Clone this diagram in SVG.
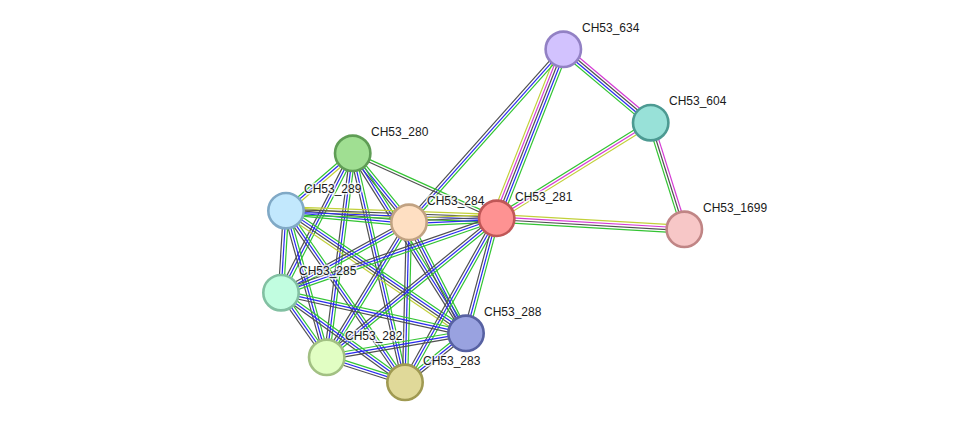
<svg xmlns="http://www.w3.org/2000/svg" width="975" height="428" viewBox="0 0 975 428">
<style>
.g{stroke:#33c433}.b{stroke:#2a2af0}.k{stroke:#505050}.m{stroke:#d43ad4}.y{stroke:#c2d03a}
line{stroke-width:1.2;fill:none}
.n circle{stroke-width:2.6}
text{font-family:"Liberation Sans",Arial,sans-serif;font-size:12px;fill:#1a1a1a;stroke:#fff;stroke-width:3;stroke-opacity:0.75;paint-order:stroke;stroke-linejoin:round}
</style>
<defs>
<g id="e3"><line class="g" x1="0" y1="-2.6" x2="1" y2="-2.6"/><line class="b" x1="0" y1="0" x2="1" y2="0"/><line class="k" x1="0" y1="2.6" x2="1" y2="2.6"/></g>
<g id="ykbg"><line class="y" x1="0" y1="-3.9" x2="1" y2="-3.9"/><line class="k" x1="0" y1="-1.3" x2="1" y2="-1.3"/><line class="b" x1="0" y1="1.3" x2="1" y2="1.3"/><line class="g" x1="0" y1="3.9" x2="1" y2="3.9"/></g>
<g id="gbkm"><line class="m" x1="0" y1="-3.9" x2="1" y2="-3.9"/><line class="k" x1="0" y1="-1.3" x2="1" y2="-1.3"/><line class="b" x1="0" y1="1.3" x2="1" y2="1.3"/><line class="g" x1="0" y1="3.9" x2="1" y2="3.9"/></g>
<g id="gbkmy"><line class="g" x1="0" y1="-5.2" x2="1" y2="-5.2"/><line class="b" x1="0" y1="-2.6" x2="1" y2="-2.6"/><line class="k" x1="0" y1="0" x2="1" y2="0"/><line class="m" x1="0" y1="2.6" x2="1" y2="2.6"/><line class="y" x1="0" y1="5.2" x2="1" y2="5.2"/></g>
<g id="gmy"><line class="g" x1="0" y1="2.6" x2="1" y2="2.6"/><line class="m" x1="0" y1="0" x2="1" y2="0"/><line class="y" x1="0" y1="-2.6" x2="1" y2="-2.6"/></g>
<g id="gkm"><line class="g" x1="0" y1="2.6" x2="1" y2="2.6"/><line class="k" x1="0" y1="0" x2="1" y2="0"/><line class="m" x1="0" y1="-2.6" x2="1" y2="-2.6"/></g>
<g id="gkmy"><line class="y" x1="0" y1="-3.9" x2="1" y2="-3.9"/><line class="m" x1="0" y1="-1.3" x2="1" y2="-1.3"/><line class="k" x1="0" y1="1.3" x2="1" y2="1.3"/><line class="g" x1="0" y1="3.9" x2="1" y2="3.9"/></g>
<g id="gby"><line class="y" x1="0" y1="-2.6" x2="1" y2="-2.6"/><line class="b" x1="0" y1="0" x2="1" y2="0"/><line class="g" x1="0" y1="2.6" x2="1" y2="2.6"/></g>
<g id="gk"><line class="g" x1="0" y1="-1.3" x2="1" y2="-1.3"/><line class="k" x1="0" y1="1.3" x2="1" y2="1.3"/></g>
<g id="gbky"><line class="g" x1="0" y1="-3.9" x2="1" y2="-3.9"/><line class="b" x1="0" y1="-1.3" x2="1" y2="-1.3"/><line class="k" x1="0" y1="1.3" x2="1" y2="1.3"/><line class="y" x1="0" y1="3.9" x2="1" y2="3.9"/></g>
</defs>
<g id="edges">
<use href="#gbkm" transform="translate(563.3,49.3) rotate(40.02) scale(114.1,1)"/>
<use href="#gbkmy" transform="translate(563.3,49.3) rotate(111.51) scale(181.65,1)"/>
<use href="#e3" transform="translate(563.3,49.3) rotate(131.73) scale(231.8,1)"/>
<use href="#gmy" transform="translate(650.7,122.7) rotate(148.17) scale(181.3,1)"/>
<use href="#gkm" transform="translate(650.7,122.7) rotate(72.5) scale(111.8,1)"/>
<use href="#gkmy" transform="translate(496.7,218.3) rotate(3.36) scale(187.9,1)"/>
<use href="#gby" transform="translate(352.7,153.3) rotate(139.28) scale(88,1)"/>
<use href="#e3" transform="translate(352.7,153.3) rotate(50.79) scale(89.06,1)"/>
<use href="#gk" transform="translate(352.7,153.3) rotate(24.29) scale(158,1)"/>
<use href="#e3" transform="translate(352.7,153.3) rotate(117.22) scale(156.8,1)"/>
<use href="#e3" transform="translate(352.7,153.3) rotate(97.26) scale(205.65,1)"/>
<use href="#e3" transform="translate(352.7,153.3) rotate(77.14) scale(234.9,1)"/>
<use href="#e3" transform="translate(352.7,153.3) rotate(57.81) scale(212.7,1)"/>
<use href="#ykbg" transform="translate(286,210.7) rotate(5.39) scale(123.55,1)"/>
<use href="#ykbg" transform="translate(286,210.7) rotate(2.07) scale(210.84,1)"/>
<use href="#e3" transform="translate(286,210.7) rotate(93.49) scale(82.15,1)"/>
<use href="#e3" transform="translate(286,210.7) rotate(74.48) scale(152.1,1)"/>
<use href="#e3" transform="translate(286,210.7) rotate(55.26) scale(208.8,1)"/>
<use href="#gbky" transform="translate(286,210.7) rotate(34.26) scale(217.8,1)"/>
<use href="#ykbg" transform="translate(409,222.3) rotate(-2.61) scale(87.8,1)"/>
<use href="#e3" transform="translate(409,222.3) rotate(151.19) scale(146.1,1)"/>
<use href="#e3" transform="translate(409,222.3) rotate(121.37) scale(158.1,1)"/>
<use href="#e3" transform="translate(409,222.3) rotate(91.43) scale(160.05,1)"/>
<use href="#e3" transform="translate(409,222.3) rotate(62.82) scale(124.8,1)"/>
<use href="#e3" transform="translate(496.7,218.3) rotate(160.97) scale(228.2,1)"/>
<use href="#e3" transform="translate(496.7,218.3) rotate(140.73) scale(219.6,1)"/>
<use href="#e3" transform="translate(496.7,218.3) rotate(119.21) scale(187.9,1)"/>
<use href="#e3" transform="translate(496.7,218.3) rotate(104.95) scale(119,1)"/>
<use href="#e3" transform="translate(281,292.7) rotate(54.72) scale(79.1,1)"/>
<use href="#e3" transform="translate(281,292.7) rotate(35.85) scale(153,1)"/>
<use href="#e3" transform="translate(281,292.7) rotate(12.38) scale(189.4,1)"/>
<use href="#e3" transform="translate(326.7,357.3) rotate(17.71) scale(82.2,1)"/>
<use href="#e3" transform="translate(326.7,357.3) rotate(-9.78) scale(141.35,1)"/>
<use href="#e3" transform="translate(405,382.3) rotate(-38.77) scale(78.24,1)"/>
</g>
<g id="n634" class="n"><circle cx="563.3" cy="49.3" r="17.7" fill="#d2c2fe" stroke="#9281c4"/><text x="582" y="32">CH53_634</text></g>
<g id="n604" class="n"><circle cx="650.7" cy="122.7" r="17.7" fill="#98e1d8" stroke="#4c9a92"/><text x="669" y="105">CH53_604</text></g>
<g id="n1699" class="n"><circle cx="684.3" cy="229.3" r="17.7" fill="#f7c7c7" stroke="#c08585"/><text x="703" y="212">CH53_1699</text></g>
<g id="n280" class="n"><circle cx="352.7" cy="153.3" r="17.7" fill="#a0df92" stroke="#5f9d55"/><text x="371" y="136">CH53_280</text></g>
<g id="n289" class="n"><circle cx="286" cy="210.7" r="17.7" fill="#c2e8fd" stroke="#80a9c6"/><text x="304" y="193">CH53_289</text></g>
<g id="n284" class="n"><circle cx="409" cy="222.3" r="17.7" fill="#fedfc2" stroke="#c1a282"/><text x="427" y="205">CH53_284</text></g>
<g id="n281" class="n"><circle cx="496.7" cy="218.3" r="17.7" fill="#fe9292" stroke="#c05757"/><text x="515" y="201">CH53_281</text></g>
<g id="n285" class="n"><circle cx="281" cy="292.7" r="17.7" fill="#c1fde0" stroke="#82c0a2"/><text x="299" y="275">CH53_285</text></g>
<g id="n288" class="n"><circle cx="466" cy="333.3" r="17.7" fill="#99a2e0" stroke="#5761a2"/><text x="484" y="316">CH53_288</text></g>
<g id="n282" class="n"><circle cx="326.7" cy="357.3" r="17.7" fill="#e1fec3" stroke="#a2c083"/><text x="345" y="340">CH53_282</text></g>
<g id="n283" class="n"><circle cx="405" cy="382.3" r="17.7" fill="#e0d999" stroke="#a09a52"/><text x="423" y="365">CH53_283</text></g>
</svg>
